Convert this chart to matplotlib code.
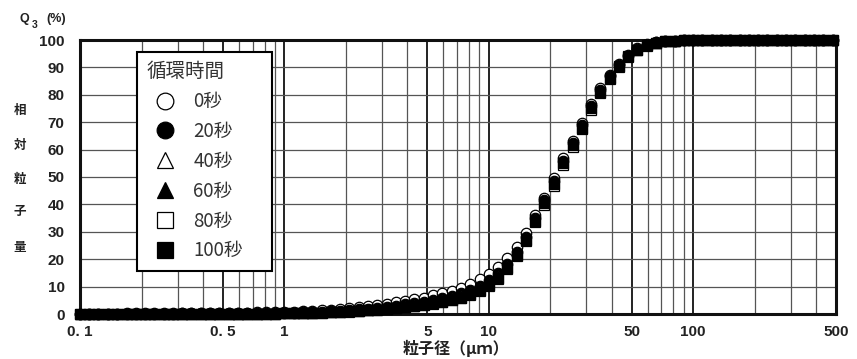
import matplotlib.pyplot as plt
from matplotlib.ticker import FixedLocator, NullFormatter

plt.rcParams["font.family"] = ["Liberation Sans", "Noto Sans CJK JP", "DejaVu Sans"]
CJK = ["Noto Sans CJK JP", "DejaVu Sans"]

# particle size classes (um), log spaced
SIZE_UM = [
    0.100, 0.111, 0.123, 0.137, 0.152, 0.169, 0.187, 0.208, 0.231, 0.257, 0.285,
    0.316, 0.351, 0.390, 0.433, 0.481, 0.534, 0.593, 0.658, 0.731, 0.811, 0.901,
    1.00, 1.11, 1.23, 1.37, 1.52, 1.69, 1.87, 2.08, 2.31, 2.57, 2.85,
    3.16, 3.51, 3.90, 4.33, 4.81, 5.34, 5.93, 6.58, 7.31, 8.11, 9.01,
    10.0, 11.1, 12.3, 13.7, 15.2, 16.9, 18.7, 20.8, 23.1, 25.7, 28.5,
    31.6, 35.1, 39.0, 43.3, 48.1, 53.4, 59.3, 65.8, 73.1, 81.1, 90.1,
    100, 111, 123, 137, 152, 169, 187, 208, 231, 257, 285,
    316, 351, 390, 433, 481,
]

# cumulative undersize Q3 (%) per circulation time
Q3_0S = [
    0.1, 0.1, 0.1, 0.1, 0.1, 0.2, 0.2, 0.2, 0.2, 0.3, 0.3,
    0.3, 0.3, 0.4, 0.4, 0.4, 0.5, 0.5, 0.5, 0.6, 0.6, 0.7,
    0.8, 0.9, 1.0, 1.2, 1.4, 1.6, 1.9, 2.2, 2.5, 2.9, 3.3,
    3.7, 4.2, 4.7, 5.3, 6.0, 6.8, 7.6, 8.5, 9.6, 11.0, 12.6,
    14.5, 17.0, 20.3, 24.5, 29.5, 36.0, 42.5, 49.5, 56.8, 63.3, 69.8,
    76.5, 82.3, 87.3, 91.3, 94.6, 97.0, 98.4, 99.2, 99.6, 99.8, 99.9,
    100.0, 100.0, 100.0, 100.0, 100.0, 100.0, 100.0, 100.0, 100.0, 100.0, 100.0,
    100.0, 100.0, 100.0, 100.0, 100.0,
]
Q3_20S = [
    0.0, 0.0, 0.0, 0.0, 0.1, 0.1, 0.1, 0.1, 0.1, 0.1, 0.1,
    0.2, 0.2, 0.2, 0.2, 0.2, 0.2, 0.3, 0.3, 0.3, 0.3, 0.3,
    0.4, 0.5, 0.6, 0.7, 0.8, 1.0, 1.2, 1.5, 1.7, 2.0, 2.3,
    2.7, 3.1, 3.5, 4.0, 4.5, 5.1, 5.7, 6.5, 7.5, 8.8, 10.3,
    12.3, 14.8, 18.3, 22.8, 28.2, 35.0, 41.5, 48.5, 56.0, 62.4, 68.9,
    75.8, 81.7, 86.8, 90.9, 94.3, 96.7, 98.2, 99.1, 99.5, 99.8, 99.9,
    100.0, 100.0, 100.0, 100.0, 100.0, 100.0, 100.0, 100.0, 100.0, 100.0, 100.0,
    100.0, 100.0, 100.0, 100.0, 100.0,
]
Q3_40S = [
    0.0, 0.0, 0.0, 0.0, 0.0, 0.0, 0.0, 0.0, 0.0, 0.0, 0.0,
    0.0, 0.0, 0.0, 0.1, 0.1, 0.1, 0.1, 0.1, 0.1, 0.2, 0.2,
    0.3, 0.4, 0.4, 0.5, 0.6, 0.8, 1.0, 1.2, 1.4, 1.6, 1.9,
    2.2, 2.6, 3.0, 3.4, 3.9, 4.4, 5.0, 5.7, 6.7, 8.0, 9.5,
    11.4, 13.9, 17.5, 22.1, 27.6, 34.5, 41.0, 48.0, 55.5, 62.0, 68.4,
    75.4, 81.3, 86.5, 90.7, 94.1, 96.6, 98.1, 99.0, 99.5, 99.8, 99.9,
    100.0, 100.0, 100.0, 100.0, 100.0, 100.0, 100.0, 100.0, 100.0, 100.0, 100.0,
    100.0, 100.0, 100.0, 100.0, 100.0,
]
Q3_60S = [
    0.0, 0.0, 0.0, 0.0, 0.0, 0.0, 0.0, 0.0, 0.0, 0.0, 0.0,
    0.0, 0.0, 0.0, 0.0, 0.0, 0.1, 0.1, 0.1, 0.1, 0.1, 0.1,
    0.2, 0.3, 0.4, 0.5, 0.6, 0.7, 0.9, 1.1, 1.2, 1.4, 1.7,
    2.0, 2.3, 2.7, 3.1, 3.6, 4.1, 4.6, 5.3, 6.2, 7.4, 8.9,
    10.8, 13.3, 17.0, 21.7, 27.2, 34.1, 40.5, 47.5, 55.0, 61.5, 68.0,
    75.0, 81.0, 86.2, 90.5, 94.0, 96.5, 98.0, 99.0, 99.5, 99.8, 99.9,
    100.0, 100.0, 100.0, 100.0, 100.0, 100.0, 100.0, 100.0, 100.0, 100.0, 100.0,
    100.0, 100.0, 100.0, 100.0, 100.0,
]
Q3_80S = [
    0.0, 0.0, 0.0, 0.0, 0.0, 0.0, 0.0, 0.0, 0.0, 0.0, 0.0,
    0.0, 0.0, 0.0, 0.0, 0.0, 0.0, 0.0, 0.1, 0.1, 0.1, 0.1,
    0.2, 0.2, 0.3, 0.4, 0.5, 0.6, 0.8, 0.9, 1.1, 1.3, 1.5,
    1.8, 2.1, 2.5, 2.9, 3.3, 3.8, 4.3, 5.0, 5.9, 7.1, 8.5,
    10.4, 12.9, 16.5, 21.0, 26.5, 33.4, 39.8, 46.8, 54.3, 60.9, 67.5,
    74.5, 80.6, 85.9, 90.3, 93.8, 96.4, 97.9, 98.9, 99.5, 99.8, 99.9,
    100.0, 100.0, 100.0, 100.0, 100.0, 100.0, 100.0, 100.0, 100.0, 100.0, 100.0,
    100.0, 100.0, 100.0, 100.0, 100.0,
]
Q3_100S = [
    0.0, 0.0, 0.0, 0.0, 0.0, 0.0, 0.0, 0.0, 0.0, 0.0, 0.0,
    0.0, 0.0, 0.0, 0.0, 0.0, 0.0, 0.0, 0.1, 0.1, 0.1, 0.1,
    0.2, 0.3, 0.3, 0.4, 0.5, 0.6, 0.8, 1.0, 1.1, 1.3, 1.6,
    1.9, 2.2, 2.6, 3.0, 3.4, 3.9, 4.4, 5.1, 6.0, 7.2, 8.6,
    10.5, 13.0, 16.8, 21.5, 27.0, 34.0, 40.5, 47.5, 55.0, 61.5, 68.0,
    75.0, 81.0, 86.2, 90.5, 94.0, 96.5, 98.0, 99.0, 99.5, 99.8, 99.9,
    100.0, 100.0, 100.0, 100.0, 100.0, 100.0, 100.0, 100.0, 100.0, 100.0, 100.0,
    100.0, 100.0, 100.0, 100.0, 100.0,
]

SERIES = [
    ("0秒", Q3_0S, "o", "white"),
    ("20秒", Q3_20S, "o", "black"),
    ("40秒", Q3_40S, "^", "white"),
    ("60秒", Q3_60S, "^", "black"),
    ("80秒", Q3_80S, "s", "white"),
    ("100秒", Q3_100S, "s", "black"),
]

X_TICKS = [0.1, 0.5, 1, 5, 10, 50, 100, 500]
X_TICK_TEXT = ["0. 1", "0. 5", "1", "5", "10", "50", "100", "500"]
X_MINOR = [0.2, 0.3, 0.4, 0.6, 0.7, 0.8, 0.9,
           2, 3, 4, 6, 7, 8, 9,
           20, 30, 40, 60, 70, 80, 90,
           200, 300, 400]
Y_TICKS = [0, 10, 20, 30, 40, 50, 60, 70, 80, 90, 100]

fig = plt.figure(figsize=(8.57, 3.59), dpi=100)
ax = fig.add_axes([80 / 857, 45 / 359, 756 / 857, 274 / 359])

ax.set_xscale("log")
ax.set_xlim(0.1, 500)
ax.set_ylim(0, 100)

ax.xaxis.set_major_locator(FixedLocator(X_TICKS))
ax.xaxis.set_minor_locator(FixedLocator(X_MINOR))
ax.xaxis.set_minor_formatter(NullFormatter())
ax.set_xticklabels(X_TICK_TEXT)
ax.set_yticks(Y_TICKS)

ax.grid(which="major", axis="x", color="#222222", linewidth=1.4)
ax.grid(which="minor", axis="x", color="#555555", linewidth=0.9)
ax.grid(which="major", axis="y", color="#555555", linewidth=0.9)
ax.set_axisbelow(True)

ax.tick_params(which="both", length=0)
ax.tick_params(axis="y", pad=11, labelsize=11, labelcolor="#222222")
ax.tick_params(axis="x", pad=8, labelsize=11, labelcolor="#222222")
for lbl in ax.get_xticklabels() + ax.get_yticklabels():
    lbl.set_fontweight("bold")

for sp in ax.spines.values():
    sp.set_linewidth(2.2)
    sp.set_color("#111111")

handles = []
for label, q3, marker, face in SERIES:
    h, = ax.plot(SIZE_UM, q3, linestyle="none", marker=marker, markersize=7.5,
                 markerfacecolor=face, markeredgecolor="black",
                 markeredgewidth=0.9, clip_on=False, zorder=3, label=label)
    handles.append(h)

leg = ax.legend(handles=handles, title="循環時間", loc="upper left",
                bbox_to_anchor=(0.0754, 0.0, 0.178, 0.956), mode="expand",
                borderaxespad=0, frameon=True, fancybox=False, framealpha=1,
                edgecolor="black", markerscale=1.6, handlelength=2.0,
                handletextpad=0.5, labelspacing=0.47, borderpad=0.5,
                alignment="left", prop={"family": CJK, "size": 13.5},
                title_fontproperties={"family": CJK, "size": 14})
leg.get_frame().set_linewidth(1.5)
leg.set_zorder(5)
for t in leg.get_texts():
    t.set_color("#333333")
leg.get_title().set_color("#333333")

# Q3 (%) heading above the y axis
fig.text(20 / 857, 1 - 19 / 359, "Q", fontsize=9, fontweight="bold",
         ha="left", va="center", color="#222222")
fig.text(32 / 857, 1 - 25 / 359, "3", fontsize=7.5, fontweight="bold",
         ha="left", va="center", color="#222222")
fig.text(46 / 857, 1 - 19 / 359, "(%)", fontsize=9, fontweight="bold",
         ha="left", va="center", color="#222222")

# vertical y axis title, one character per line
for ch, y in zip("相対粒子量", [110, 145, 179, 212, 247]):
    fig.text(20 / 857, 1 - y / 359, ch, family=CJK, fontsize=9,
             fontweight="bold", ha="center", va="center", color="#222222")

fig.text(456 / 857, 1 - 348 / 359, "粒子径（μｍ）", family=CJK, fontsize=11.5,
         fontweight="bold", ha="center", va="center", color="#222222")

fig.savefig("out.png", dpi=100)
